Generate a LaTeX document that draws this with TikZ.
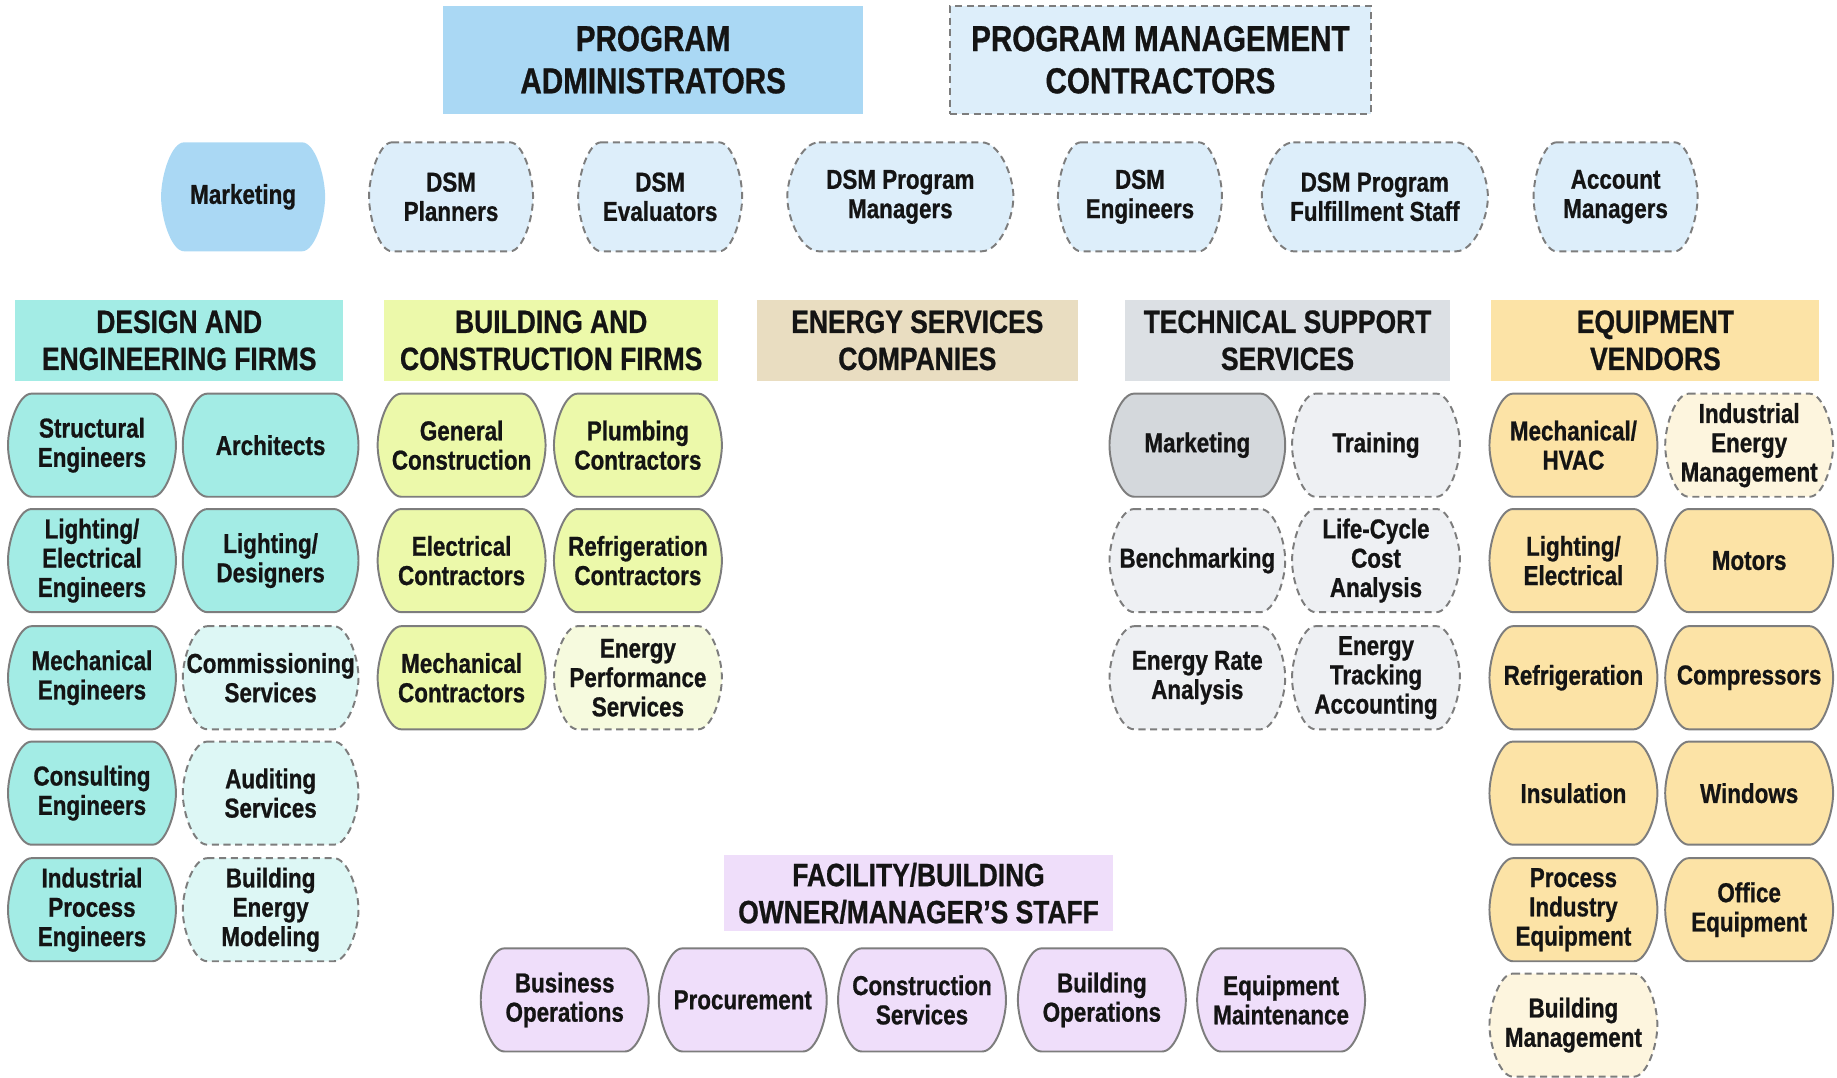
\documentclass[tikz,border=0pt]{standalone}
\usepackage{fontspec}
\setmainfont{Liberation Sans Bold}[FakeStretch=0.82, FakeBold=0.8]
\usepackage{tikz}
\tikzset{
  every node/.style = {
    inner sep = 0pt,
    outer sep = 0pt
  }
}
\usetikzlibrary{
positioning
}
\definecolor{pa blue}{RGB}{170,216,244}
\definecolor{pmc blue}{RGB}{221,238,250}
\definecolor{de green}{RGB}{163,236,229}
\definecolor{de light}{RGB}{221,247,245}
\definecolor{bc green}{RGB}{236,249,170}
\definecolor{bc light}{RGB}{246,250,222}
\definecolor{esc tan}{RGB}{233,221,193}
\definecolor{ts grey}{RGB}{220,224,228}
\definecolor{ts solid}{RGB}{212,216,220}
\definecolor{ts light}{RGB}{238,240,243}
\definecolor{ev orange}{RGB}{252,227,166}
\definecolor{ev light}{RGB}{253,245,222}
\definecolor{fb lilac}{RGB}{239,222,250}
\definecolor{rim}{RGB}{125,125,125}
\definecolor{ink}{RGB}{20,20,20}

% barrel: flat top and bottom, bulging sides
\makeatletter
\newdimen\brlL \newdimen\brlR \newdimen\brlT \newdimen\brlB
\newdimen\brlC \newdimen\brlM \newdimen\brlV
\newdimen\brlLi \newdimen\brlRi \newdimen\brlLc \newdimen\brlRc
\newdimen\brlTv \newdimen\brlBv
\pgfdeclareshape{barrel}{%
  \inheritsavedanchors[from=rectangle]%
  \inheritanchorborder[from=rectangle]%
  \inheritanchor[from=rectangle]{center}%
  \inheritanchor[from=rectangle]{north}%
  \inheritanchor[from=rectangle]{south}%
  \inheritanchor[from=rectangle]{east}%
  \inheritanchor[from=rectangle]{west}%
  \inheritanchor[from=rectangle]{base}%
  \backgroundpath{%
    \southwest \brlL=\pgf@x \brlB=\pgf@y
    \northeast \brlR=\pgf@x \brlT=\pgf@y
    \brlC=\brlR \advance\brlC by-\brlL \brlC=0.14\brlC
    \brlM=\brlT \advance\brlM by\brlB \brlM=0.5\brlM
    \brlV=\brlT \advance\brlV by-\brlB \brlV=0.3\brlV
    \brlLi=\brlL \advance\brlLi by\brlC
    \brlRi=\brlR \advance\brlRi by-\brlC
    \brlLc=\brlL \advance\brlLc by0.45\brlC
    \brlRc=\brlR \advance\brlRc by-0.45\brlC
    \brlTv=\brlT \advance\brlTv by-\brlV
    \brlBv=\brlB \advance\brlBv by\brlV
    \pgfpathmoveto{\pgfqpoint{\brlLi}{\brlT}}%
    \pgfpathlineto{\pgfqpoint{\brlRi}{\brlT}}%
    \pgfpathcurveto{\pgfqpoint{\brlRc}{\brlT}}{\pgfqpoint{\brlR}{\brlTv}}{\pgfqpoint{\brlR}{\brlM}}%
    \pgfpathcurveto{\pgfqpoint{\brlR}{\brlBv}}{\pgfqpoint{\brlRc}{\brlB}}{\pgfqpoint{\brlRi}{\brlB}}%
    \pgfpathlineto{\pgfqpoint{\brlLi}{\brlB}}%
    \pgfpathcurveto{\pgfqpoint{\brlLc}{\brlB}}{\pgfqpoint{\brlL}{\brlBv}}{\pgfqpoint{\brlL}{\brlM}}%
    \pgfpathcurveto{\pgfqpoint{\brlL}{\brlTv}}{\pgfqpoint{\brlLc}{\brlT}}{\pgfqpoint{\brlLi}{\brlT}}%
    \pgfpathclose
  }%
}
\makeatother

\begin{document}
\begin{tikzpicture}[
      x = 0.6pt,
      y = -0.6pt,
      top head/.style={
        align = center,
        text = ink,
        font = \fontsize{18.5}{21.6}\selectfont,
        minimum width = 215.4pt,
        minimum height = 55.2pt,
      },
      group head/.style={
        align = center,
        text = ink,
        font = \fontsize{16.5}{19}\selectfont,
        minimum height = 41.4pt,
      },
      duty/.style={
        shape = barrel,
        align = center,
        text = ink,
        font = \fontsize{14}{15}\selectfont,
        minimum width = 84pt,
        minimum height = 55.8pt,
      },
      duty open/.style={
        duty,
        draw = rim,
        line width = 1pt,
        dash pattern = on 3.6pt off 2.4pt,
      },
      member/.style={
        shape = barrel,
        align = center,
        text = ink,
        draw = rim,
        line width = 1pt,
        font = \fontsize{14}{15}\selectfont,
        minimum width = 86pt,
        minimum height = 52.8pt,
      },
      member open/.style={
        member,
        dash pattern = on 3.6pt off 2.4pt,
      },
      ]
      \useasboundingbox (0,0) rectangle (1568,920);

      % program level
      \node [top head, fill=pa blue, name=node-admin] at (557.5,51)
      {PROGRAM\\ADMINISTRATORS};
      \node [top head, fill=pmc blue, draw=rim, line width=1pt,
        dash pattern=on 3.6pt off 2.4pt, name=node-pmc] at (990.5,51)
      {PROGRAM MANAGEMENT\\CONTRACTORS};

      \node [duty, fill=pa blue, name=node-marketing] at (207.5,168) {Marketing};
      \node [duty open, fill=pmc blue, name=node-planners] at (385,168) {DSM\\Planners};
      \node [duty open, fill=pmc blue, name=node-evaluators] at (563.5,168) {DSM\\Evaluators};
      \node [duty open, fill=pmc blue, minimum width=115.8pt, name=node-managers]
      at (768.5,168) {DSM Program\\Managers};
      \node [duty open, fill=pmc blue, name=node-engineers] at (973,168) {DSM\\Engineers};
      \node [duty open, fill=pmc blue, minimum width=115.8pt, name=node-fulfillment]
      at (1173.5,168) {DSM Program\\Fulfillment Staff};
      \node [duty open, fill=pmc blue, name=node-account] at (1379,168) {Account\\Managers};

      % column heads
      \node [group head, fill=de green, minimum width=168pt, name=node-design]
      at (153,290.5) {DESIGN AND\\ENGINEERING FIRMS};
      \node [group head, fill=bc green, minimum width=171pt, name=node-building]
      at (470.5,290.5) {BUILDING AND\\CONSTRUCTION FIRMS};
      \node [group head, fill=esc tan, minimum width=164.4pt, name=node-esco]
      at (783,290.5) {ENERGY SERVICES\\COMPANIES};
      \node [group head, fill=ts grey, minimum width=166.8pt, name=node-technical]
      at (1099,290.5) {TECHNICAL SUPPORT\\SERVICES};
      \node [group head, fill=ev orange, minimum width=168pt, name=node-vendors]
      at (1413,290.5) {EQUIPMENT\\VENDORS};

      % design and engineering firms
      \node [member, fill=de green, name=node-structural] at (78.5,380) {Structural\\Engineers};
      \node [member, fill=de green, minimum width=90pt, name=node-architects] at (231,380) {Architects};
      \node [member, fill=de green, name=node-lightelec] at (78.5,478.5) {Lighting/\\Electrical\\Engineers};
      \node [member, fill=de green, minimum width=90pt, name=node-lightdes] at (231,478.5) {Lighting/\\Designers};
      \node [member, fill=de green, name=node-mechanical] at (78.5,578.5) {Mechanical\\Engineers};
      \node [member open, fill=de light, minimum width=90pt, name=node-commissioning] at (231,578.5) {Commissioning\\Services};
      \node [member, fill=de green, name=node-consulting] at (78.5,677) {Consulting\\Engineers};
      \node [member open, fill=de light, minimum width=90pt, name=node-auditing] at (231,677) {Auditing\\Services};
      \node [member, fill=de green, name=node-process] at (78.5,776.5) {Industrial\\Process\\Engineers};
      \node [member open, fill=de light, minimum width=90pt, name=node-modeling] at (231,776.5) {Building\\Energy\\Modeling};

      % building and construction firms
      \node [member, fill=bc green, name=node-general] at (394,380) {General\\Construction};
      \node [member, fill=bc green, name=node-plumbing] at (544.5,380) {Plumbing\\Contractors};
      \node [member, fill=bc green, name=node-electrical] at (394,478.5) {Electrical\\Contractors};
      \node [member, fill=bc green, name=node-refrigcontr] at (544.5,478.5) {Refrigeration\\Contractors};
      \node [member, fill=bc green, name=node-mechcontr] at (394,578.5) {Mechanical\\Contractors};
      \node [member open, fill=bc light, name=node-performance] at (544.5,578.5) {Energy\\Performance\\Services};

      % technical support services
      \node [member, fill=ts solid, minimum width=90pt, name=node-tsmarketing] at (1022,380) {Marketing};
      \node [member open, fill=ts light, name=node-training] at (1174.5,380) {Training};
      \node [member open, fill=ts light, minimum width=90pt, name=node-benchmarking] at (1022,478.5) {Benchmarking};
      \node [member open, fill=ts light, name=node-lifecycle] at (1174.5,478.5) {Life-Cycle\\Cost\\Analysis};
      \node [member open, fill=ts light, minimum width=90pt, name=node-rate] at (1022,578.5) {Energy Rate\\Analysis};
      \node [member open, fill=ts light, name=node-tracking] at (1174.5,578.5) {Energy\\Tracking\\Accounting};

      % equipment vendors
      \node [member, fill=ev orange, name=node-hvac] at (1343,380) {Mechanical/\\HVAC};
      \node [member open, fill=ev light, name=node-industrial] at (1493,380) {Industrial\\Energy\\Management};
      \node [member, fill=ev orange, name=node-lighting] at (1343,478.5) {Lighting/\\Electrical};
      \node [member, fill=ev orange, name=node-motors] at (1493,478.5) {Motors};
      \node [member, fill=ev orange, name=node-refrigeration] at (1343,578.5) {Refrigeration};
      \node [member, fill=ev orange, name=node-compressors] at (1493,578.5) {Compressors};
      \node [member, fill=ev orange, name=node-insulation] at (1343,677) {Insulation};
      \node [member, fill=ev orange, name=node-windows] at (1493,677) {Windows};
      \node [member, fill=ev orange, name=node-processeq] at (1343,776.5) {Process\\Industry\\Equipment};
      \node [member, fill=ev orange, name=node-office] at (1493,776.5) {Office\\Equipment};
      \node [member open, fill=ev light, name=node-bms] at (1343,875) {Building\\Management};

      % facility staff
      \node [group head, fill=fb lilac, minimum width=199.2pt, minimum height=39pt, name=node-facility]
      at (784,762.5) {FACILITY/BUILDING\\OWNER/MANAGER’S STAFF};
      \node [member, fill=fb lilac, name=node-business] at (482,853.5) {Business\\Operations};
      \node [member, fill=fb lilac, name=node-procurement] at (634,853.5) {Procurement};
      \node [member, fill=fb lilac, name=node-construction] at (787,853.5) {Construction\\Services};
      \node [member, fill=fb lilac, name=node-operations] at (940.5,853.5) {Building\\Operations};
      \node [member, fill=fb lilac, name=node-maintenance] at (1093.5,853.5) {Equipment\\Maintenance};
    \end{tikzpicture}
\end{document}
